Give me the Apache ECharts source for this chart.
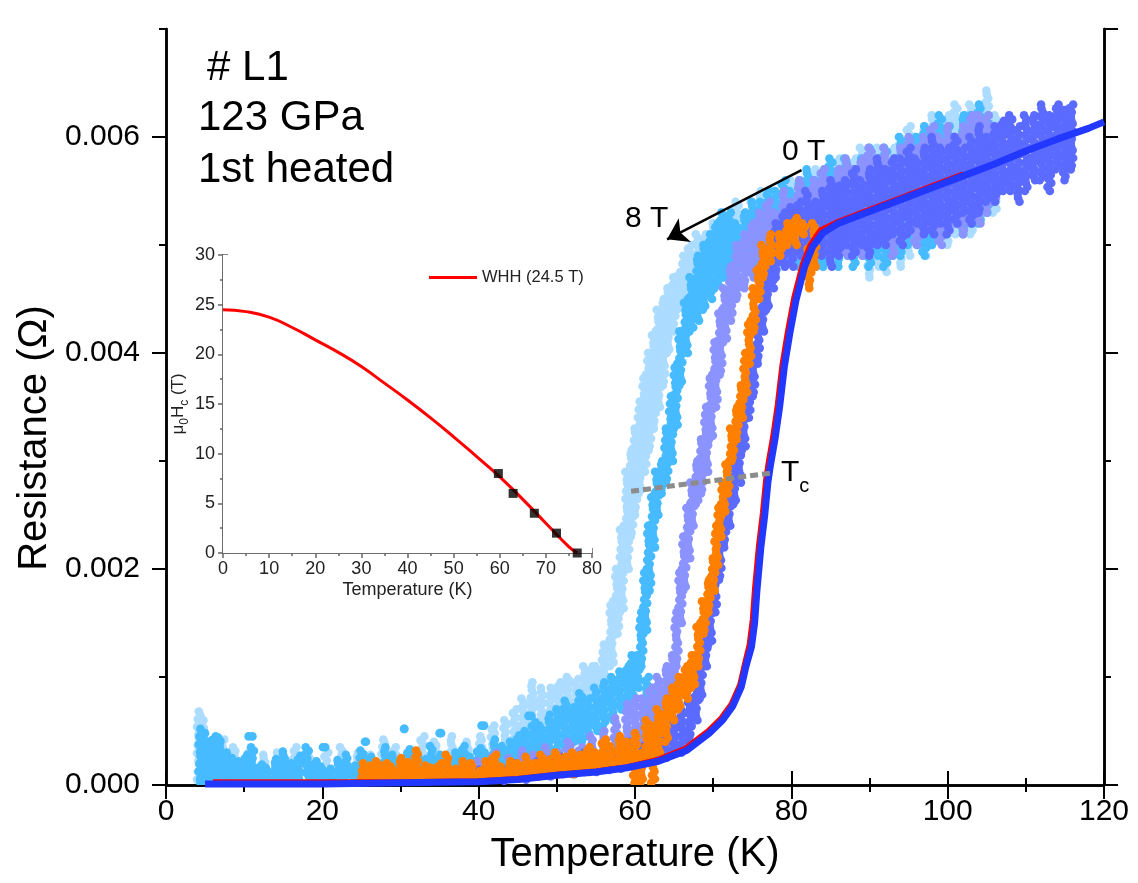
<!DOCTYPE html>
<html>
<head>
<meta charset="utf-8">
<script src="https://cdn.jsdelivr.net/npm/echarts@6/dist/echarts.min.js"></script>
<style>html,body{margin:0;padding:0;background:#fff;}#c{width:1138px;height:883px;}</style>
</head>
<body>
<div id="c"></div>
<script>
// ---------------- DATA ----------------
const xTicksMain = [0, 20, 40, 60, 80, 100, 120];
const yMajor = [0, 0.002, 0.004, 0.006];

// scatter clouds, each entry: [T (K), R low (Ω), R high (Ω)]
const lightSky = [
 [4.2,.00005,.00068],[4.6,.00005,.0006],[5.6,.0001,.0004],[7.2,.0001,.00042],[8.8,.00008,.00035],[10.5,.00005,.0003],
 [12.5,.0001,.00028],[14.2,.00008,.0003],[16.5,.0001,.00035],[18.5,.0001,.00025],[20.5,.00008,.0003],[22.5,.0001,.00035],
 [24.5,.0001,.0003],[26.2,.0001,.00028],[27.8,.00012,.00042],[29.2,.0001,.00035],[31.2,.0001,.0003],[32.8,.00012,.00045],
 [34.5,.00015,.0004],[36.5,.00012,.00045],[38.5,.00015,.0004],[40.2,.00015,.00045],[41.8,.0002,.00055],[43.4,.0002,.0006],
 [44.6,.00025,.0007],[45.7,.0003,.0008],[46.8,.00035,.00095],[48,.0004,.0009],[49.2,.00045,.0009],[50.3,.0005,.00095],
 [51.4,.0005,.001],[52.5,.00055,.00098],[53.6,.0006,.0011],[54.5,.0006,.0011],
 [55,.0006,.0011],[56,.0008,.0013],[57,.0011,.0017],[57.7,.0014,.0020],[58.3,.0016,.0024],[59,.0020,.0029],[59.5,.0023,.0031],
 [60,.0025,.0033],[60.6,.0027,.00355],[61.2,.0029,.0038],[61.8,.0031,.0040],[62.4,.0033,.0042],[63,.0035,.0044],
 [63.6,.0037,.0045],[64.2,.0040,.0046],[64.9,.0042,.0047],[65.6,.0044,.00475],[66.3,.0045,.0049],[67,.00455,.0050],[68,.0047,.0051],
 [69,.0047,.0051],[70,.0048,.0052],[71,.0047,.0053],[72,.0048,.0052],[73,.0048,.0054],[74,.0048,.0053],[75,.0049,.0054],
 [76,.0048,.0055],[77,.0049,.0054],[78,.0049,.0055],[79,.0048,.0055],[80,.0049,.0056],[81,.0049,.0055],[82,.0048,.0056],
 [83,.0049,.0057],[84,.0048,.0056],[85,.0049,.0057],[86,.0048,.0058],[87,.0049,.0057],[88,.0048,.0058],[89,.0049,.0059],
 [90,.0047,.0058],[91,.0048,.0059],[92,.00475,.0058],[93,.0049,.0059],[94,.0048,.0060],[95,.0049,.0061],[96,.0050,.0060],
 [97,.0049,.0061],[98,.0050,.0062],[99,.0051,.0061],[100,.0050,.0062],[101,.0051,.0063],[102,.0052,.0062],[103,.0051,.0063],
 [104,.0052,.0062],[105,.0053,.00643],[106,.0053,.0062]
];
const skyBlue = [
 [4.4,.00002,.00052],[4.8,.00002,.00048],[5.4,.00005,.00036],[6.1,.00004,.00045],[6.9,.00008,.00044],[7.7,.00005,.0003],
 [8.5,.00004,.00025],[9.3,.00006,.00022],[10.2,.00004,.00028],[11,.00008,.00035],[12,.00004,.00019],[13,.00006,.00016],
 [14,.00005,.00024],[15,.00008,.00031],[16,.00004,.0002],[17,.00006,.00027],[18,.00008,.00035],[19,.00005,.00022],
 [20,.00004,.00017],[21,.00006,.00015],[22,.00005,.00023],[23,.00008,.00028],[24,.00006,.00018],[25,.00008,.00032],
 [26,.0001,.00026],[27,.00008,.00022],[28,.0001,.00035],[29,.00012,.00028],[30,.0001,.00022],[31,.0001,.00033],
 [32,.00012,.0003],[33,.0001,.00024],[34,.00012,.00036],[35,.0001,.00028],[36,.00012,.00022],[37,.0001,.0003],
 [38,.00012,.00036],[39,.00012,.00026],[40,.00014,.00034],[41,.00012,.0003],[42,.00016,.00042],[43,.00014,.00036],
 [44,.00016,.0004],[45,.00018,.00046],[46,.0002,.0005],[47,.00022,.00058],[48,.00025,.00055],[49,.0003,.00065],
 [50,.0003,.0007],[51,.00035,.00078],[52,.0004,.00072],[53,.0004,.00085],[54,.00045,.0008],[55,.0005,.0009],
 [56,.00055,.00095],[57,.0006,.001],[58,.0007,.00105],[59,.00075,.0011],[59.7,.0008,.0012],
 [10.8,.00045,.00045],[20.3,.00035,.00035],[25.5,.0004,.0004],[30.5,.00052,.00052],[35,.00048,.00048],[40.5,.00055,.00055],[46.5,.00064,.00064],
 [61.5,.0006,.0010],[62.3,.0006,.0009],[63,.0007,.0009],
 [60.3,.0009,.0012],[60.8,.0011,.0016],[61.3,.0014,.0020],[61.8,.0018,.0024],[62.3,.0022,.0027],[62.8,.0025,.0029],
 [63.4,.0027,.0030],[64.0,.0028,.0033],[64.6,.0030,.0036],[65.2,.0033,.0039],[65.8,.0037,.0042],[66.5,.0040,.0045],
 [67.2,.0042,.0047],[68,.0043,.0049],[68.8,.0044,.0050],[69.6,.0045,.0051],[70.4,.0046,.0052],[71.2,.0047,.0053],
 [72,.0047,.0053],[73,.0048,.0052],[74,.0048,.0053],[75,.0049,.0054],[76,.0048,.0054],[77,.0049,.0055],[78,.0048,.0055],
 [79,.0049,.0056],[80,.0049,.0055],[81,.0048,.0056],[82,.0049,.0057],[83,.0048,.0056],[84,.0048,.0057],[85,.0049,.0058],
 [86,.0048,.0057],[87,.0049,.0058],[88,.0048,.0057],[89,.0049,.0058],[90,.0048,.0059],[91,.0049,.0058],[92,.0048,.0059],
 [93,.0049,.0058],[94,.0049,.0060],[95,.0050,.0059],[96,.0050,.0060],[97,.0049,.0061],[98,.0050,.0060],[99,.0051,.0062],
 [100,.0051,.0061],[101,.0052,.0060],[102,.0051,.0062],[103,.0052,.0062],[104,.0052,.0063],[105,.0053,.0062]
];
const lavender = [
 [36,.00005,.00015],[38,.00006,.0002],[40,.00008,.00022],[42,.00008,.0003],[44,.0001,.00025],[45.5,.0001,.00032],
 [47,.0001,.00028],[48.5,.00012,.00035],[50,.00012,.0003],[51.5,.00015,.0004],[53,.00015,.00035],[54.5,.00018,.00045],
 [56,.0002,.0005],[57.5,.00022,.00062],[59,.00025,.00075],[60,.0003,.0008],
 [61,.0004,.0008],[62,.0005,.0009],[63,.0005,.0010],[64,.0006,.0011],[64.8,.0008,.0012],[65.3,.0011,.0016],
 [65.8,.0015,.0020],[66.3,.0018,.0023],[66.8,.0021,.0026],[67.3,.0024,.0028],[67.9,.0026,.0030],[68.5,.0027,.0032],
 [69.1,.0029,.0035],[69.7,.0032,.0038],[70.3,.0035,.0041],[70.9,.0038,.0044],[71.5,.0041,.0046],[72.2,.0043,.0048],
 [73,.0045,.0050],[74,.0046,.0051],
 [75,.0047,.0052],[76,.0047,.0053],[77,.0048,.0054],[78,.0048,.0053],[79,.0049,.0055],[80,.0049,.0054],[81,.0049,.0056],
 [82,.0050,.0055],[83,.0049,.0056],[84,.0050,.0057],[85,.0049,.0056],[86,.0050,.0057],[87,.0049,.0058],[88,.0050,.0057],
 [89,.0049,.0058],[90,.0050,.0059],[91,.0051,.0058],[92,.0050,.0059],[93,.0049,.0058],[94,.0050,.0059],[95,.0051,.0060],
 [96,.0050,.0059],[97,.0051,.0060],[98,.0052,.0061],[99,.0050,.0060],[100,.0051,.0061],[101,.0052,.0060],[102,.0051,.0061],
 [103,.0052,.0062],[104,.0052,.0062],[105,.0053,.0062],[106,.0054,.0061]
];
const slate = [
 [30,.00002,.00008],[32,.00003,.0001],[34,.00003,.00009],[36,.00004,.00012],[38,.00003,.0001],[40,.00004,.00014],
 [41.5,.00005,.00018],[43,.00004,.00015],[44.5,.00006,.0002],[46,.00005,.00016],[47.5,.00008,.00024],[49,.00008,.0002],
 [50.5,.0001,.00026],[52,.0001,.00022],[53.5,.00012,.0003],[55,.00012,.00026],[56.5,.00014,.00034],[58,.00015,.0003],
 [59.5,.00018,.0004],[61,.0002,.00036],[62.5,.00022,.00045],[64,.00025,.0005],[65,.0003,.0006],
 [66,.0003,.0007],[67,.0004,.0008],[67.8,.0006,.0010],[68.4,.0008,.0012],[69,.0011,.0014],[69.6,.0013,.0017],
 [70.2,.0016,.0020],[70.8,.0019,.0023],[71.4,.0022,.0026],[72,.0024,.0028],[72.7,.0026,.0030],[73.3,.0028,.0032],
 [73.9,.0031,.0035],[74.5,.0034,.0038],[75.1,.0036,.0040],[75.7,.0039,.0043],[76.3,.0042,.0046],[76.9,.0044,.0048],
 [77.5,.0046,.0050],
 [78,.0047,.0052],[79,.0048,.0053],[80,.0048,.00535],[81,.0049,.0054],[82,.0048,.0055],[83,.0049,.0054],[84,.0049,.0055],
 [85,.0048,.0056],[86,.0049,.00555],[87,.0050,.0056],[88,.0049,.0057],[89,.0050,.0056],[90,.0049,.0057],[91,.0050,.0058],
 [92,.0050,.0057],[93,.0051,.0058],[94,.0050,.0058],[95,.0051,.0059],[96,.0052,.0058],[97,.0051,.0059],[98,.0051,.0060],
 [99,.0052,.0059],[100,.0051,.0059],[101,.0052,.0060],[102,.0053,.0059],[103,.0052,.0060],[104,.0053,.0061],
 [105,.0054,.0060],[106,.0054,.0061],[107,.0055,.00615],[108,.0055,.0062],[109,.0054,.0061],[110,.0055,.0062],
 [111,.0056,.0062],[112,.0056,.0063],[113,.0055,.0062],[114,.0057,.0063],[115,.0056,.00625],[115.8,.0057,.0063]
];
const orange = [
 [25.2,.00003,.0002],[26,.00004,.00018],[27,.00003,.00022],[28,.00005,.0002],[29,.00004,.00017],[30,.00005,.00025],
 [31,.00005,.00021],[32,.00006,.00032],[33,.00004,.00018],[34,.00005,.00016],[35,.00004,.0002],[36,.00005,.00028],
 [37,.00004,.00015],[38,.00006,.00022],[39,.00005,.0002],[40,.00005,.00013],[41,.00006,.00022],[42,.00005,.00028],
 [43,.00006,.00017],[44,.00008,.00022],[45,.00006,.0002],[46,.00008,.00026],[47,.00008,.0002],[48,.0001,.00028],
 [49,.0001,.00024],[50,.0001,.0003],[51,.00012,.00026],[52,.0001,.0003],[53,.00012,.00028],[54,.00012,.00035],
 [55,.00014,.0003],[56,.00015,.00042],[57,.00016,.00036],[58,.0002,.00045],[59,.0002,.0004],[60,.00002,.00048],
 [60.8,.00002,.0003],[61.5,.00025,.0006],[62.3,.00002,.00055],
 [63,.0003,.0007],[64,.0004,.0008],[64.8,.0006,.0009],[65.6,.0007,.0010],[66.5,.0008,.0011],[67.4,.0009,.0012],
 [68.1,.0011,.0015],[68.8,.0014,.0017],[69.4,.0016,.0019],[70,.0018,.0021],[70.4,.0020,.0024],[70.8,.0023,.0026],
 [71.3,.0025,.0028],[71.8,.0027,.0030],[72.4,.0030,.0033],[73,.0032,.0035],[73.6,.0034,.0037],[74.1,.0036,.0040],
 [74.6,.0039,.0043],[75.2,.0042,.0046],[75.8,.0045,.0048],[76.4,.0047,.0050],[77.3,.00485,.0051],[78.5,.0049,.0051],
 [79.5,.0050,.0052],[80.5,.0050,.00525],[81.5,.0051,.0052],[82.3,.0046,.0050],[82.9,.0048,.0052]
];
// 0 T sweeps: [T (K), R (Ω)]
const redLine = [
 [6,.00003],[20,.00003],[30,.00003],[40,.00004],[45,.00006],[50,.0001],[55,.00013],[59,.00017],[63,.00024],
 [66.4,.00034],[69.3,.0005],[71,.00062],[72.3,.00075],[73.4,.00093],[74,.00112],[74.6,.0013],[75,.00153],
 [75.3,.00183],[75.8,.00222],[76.3,.00252],[76.7,.00282],[77.0,.00297],[77.6,.00322],[78.2,.00352],[78.8,.00389],
 [79.5,.0042],[80.3,.00451],[81.4,.00482],[82.4,.005],[83.7,.00514],[86,.00522],[90,.00533],[94,.00544],[98,.00555],[102,.00566]
];
const blueLine = [
 [5,.00001],[10,.00001],[20,.00001],[30,.00002],[40,.00003],[45,.00005],[50,.00009],[55,.00012],[59,.00016],[63,.00022],
 [66.6,.00032],[69.5,.00048],[71.2,.0006],[72.5,.00073],[73.6,.00091],[74.2,.0011],[74.9,.00128],[75.3,.0015],
 [75.6,.0018],[76.1,.0022],[76.6,.0025],[77.0,.0028],[77.3,.00295],[77.9,.0032],[78.5,.0035],[79.1,.00387],
 [79.8,.00418],[80.6,.00449],[81.7,.0048],[82.7,.00498],[84.0,.00511],[86,.0052],[90,.00531],[94,.00542],[98,.00553],
 [102,.00564],[106,.00575],[110,.00587],[114,.00598],[118,.00608],[120,.00614]
];
// Tc guide line and field arrow (data coordinates)
const tcGuide = [[59.5,.00272],[77.6,.00289]];
const fieldArrow = [[81.3,.005694],[64.1,.005053]];

// inset: upper critical field
const whhT = [0,5,10,15,20,25,30,35,40,45,50,55,60,65,70,75,76.8];
const whhH = [24.5,24.3,23.75,22.7,21.46,20.2,18.77,17.1,15.4,13.6,11.7,9.7,7.67,5.4,3.0,0.62,0];
const tcT = [59.7,62.9,67.5,72.3,76.8];
const tcH = [8,6,4,2,0];

// ---------------- CHART ----------------
const FONT = "'Liberation Sans', Arial, Helvetica, sans-serif";
const chart = echarts.init(document.getElementById('c'), null, {renderer:'canvas'});
const JIT = [0, 1.5, -1, 2, -1.8, 0.6, -0.4];
function streak(color){
  return function(params, api){
    const t = api.value(0);
    const p = api.coord([t, api.value(1)]);
    const q = api.coord([t, api.value(2)]);
    const y0 = Math.min(p[1], q[1]), y1 = Math.max(p[1], q[1]);
    const n = Math.max(1, Math.ceil((y1 - y0) / 4));
    const kids = [];
    for (let i = 0; i <= n; i++) {
      kids.push({type:'circle', shape:{cx: p[0] + JIT[(i + params.dataIndex) % JIT.length], cy: y0 + (y1 - y0) * i / n, r: 4.3}, style:{fill: color}});
    }
    return {type:'group', children: kids};
  };
}
const clouds = [
  {name:'8 T', data: lightSky, color:'#acdcff'},
  {name:'6 T', data: skyBlue, color:'#47bbff'},
  {name:'4 T', data: lavender, color:'#8b93ff'},
  {name:'2 T b', data: slate, color:'#5b6bff'},
  {name:'2 T', data: orange, color:'#ff8000'}
];
const series = clouds.map(c => ({
  type:'custom', name:c.name, data:c.data, xAxisIndex:0, yAxisIndex:0, clip:true, silent:true,
  encode:{x:0, y:[1,2]}, renderItem: streak(c.color)
}));
series.push({type:'line', name:'0 T a', data: redLine, xAxisIndex:0, yAxisIndex:0, symbol:'none', silent:true,
  lineStyle:{color:'#ff0000', width:5}});
series.push({type:'line', name:'0 T', data: blueLine, xAxisIndex:0, yAxisIndex:0, symbol:'none', silent:true,
  lineStyle:{color:'#2238ff', width:7}});
series.push({type:'line', name:'Tc', data: tcGuide, xAxisIndex:0, yAxisIndex:0, symbol:'none', silent:true,
  lineStyle:{color:'#8c8c8c', width:5, type:[8,4]}});
series.push({type:'lines', name:'field arrow', coordinateSystem:'cartesian2d', xAxisIndex:0, yAxisIndex:0, silent:true,
  symbol:['none','arrow'], symbolSize:20, z:6,
  lineStyle:{color:'#000', width:2.5, type:'solid', opacity:1},
  data:[{coords: fieldArrow}]});
series.push({type:'line', name:'WHH (24.5 T)', data: whhT.map((t,i)=>[t, whhH[i]]), xAxisIndex:2, yAxisIndex:4,
  symbol:'none', smooth:true, silent:true, lineStyle:{color:'#ff0000', width:3}, itemStyle:{color:'#ff0000'}});
series.push({type:'scatter', name:'Hc', data: tcT.map((t,i)=>[t, tcH[i]]), xAxisIndex:2, yAxisIndex:4,
  symbol:'rect', symbolSize:9, silent:true, itemStyle:{color:'#000'}, z:5});

const blk = {color:'#000', width:2.5};
function mainX(pos, labels){
  return {type:'value', gridIndex:0, position:pos, min:0, max:120, interval:20,
    axisLine:{lineStyle:blk}, axisTick:{inside:false, length:14, lineStyle:{color:'#000', width:2}},
    minorTick:{show:true, splitNumber:2, length:7, lineStyle:{color:'#000', width:2}},
    splitLine:{show:false}, minorSplitLine:{show:false},
    axisLabel:{show:labels, fontSize:30, color:'#000', margin:12, fontFamily:FONT},
    name: labels ? 'Temperature (K)' : '', nameLocation:'middle', nameGap:50,
    nameTextStyle:{fontSize:40, color:'#000', fontFamily:FONT}};
}
function mainY(pos, major, labels){
  return {type:'value', gridIndex:0, position:pos, min:0, max:0.007, interval: major ? 0.002 : 0.001,
    axisLine:{show:true, lineStyle:blk}, axisTick:{inside:false, length: major ? 14 : 7, lineStyle:{color:'#000', width:2}},
    splitLine:{show:false},
    axisLabel:{show:labels, fontSize:30, color:'#000', margin:26, fontFamily:FONT, showMaxLabel:false,
      formatter: v => v.toFixed(3)}};
}
const gry = {color:'#666', width:1.5};
function insetX(pos, labels){
  return {type:'value', gridIndex:1, position:pos, min:0, max:80, interval:10,
    axisLine:{lineStyle:gry}, axisTick:{inside:false, length:5, lineStyle:gry},
    minorTick:{show:true, splitNumber:2, length:3, lineStyle:gry}, splitLine:{show:false},
    axisLabel:{show:labels, fontSize:18, color:'#222', margin:7, fontFamily:FONT},
    name: labels ? 'Temperature (K)' : '', nameLocation:'middle', nameGap:28,
    nameTextStyle:{fontSize:18, color:'#222', fontFamily:FONT}};
}
function insetY(pos, labels){
  return {type:'value', gridIndex:1, position:pos, min:0, max:30, interval:5,
    axisLine:{show:true, lineStyle:gry}, axisTick:{inside:false, length:5, lineStyle:gry},
    minorTick:{show:true, splitNumber:2, length:3, lineStyle:gry}, splitLine:{show:false},
    axisLabel:{show:labels, fontSize:18, color:'#222', margin:8, fontFamily:FONT},
    name: labels ? '{a|μ}{s|0}{a|H}{s|c}{a| (T)}' : '', nameLocation:'middle', nameGap:26,
    nameTextStyle:{color:'#222', fontFamily:FONT, fontSize:17,
      rich:{a:{fontSize:17, lineHeight:17, verticalAlign:'top', fontFamily:FONT, color:'#222'},
            s:{fontSize:12, lineHeight:12, padding:[9,0,0,0], verticalAlign:'top', fontFamily:FONT, color:'#222'}}}};
}

const option = {
  animation:false,
  backgroundColor:'#fff',
  textStyle:{fontFamily:FONT},
  grid:[
    {left:166, right:34, top:29, bottom:98, containLabel:false, outerBoundsMode:'none'},
    {left:223, top:255, width:369, height:298, containLabel:false, outerBoundsMode:'none', show:true,
     backgroundColor:'#fff', borderWidth:0, z:3}
  ],
  legend:{data:['WHH (24.5 T)'], icon:'rect', left:429, top:269, padding:0, itemWidth:48, itemHeight:3, itemGap:6,
    textStyle:{fontSize:16.5, color:'#222', fontFamily:FONT}, selectedMode:false},
  xAxis:[mainX('bottom', true), mainX('top', false), insetX('bottom', true), insetX('top', false)],
  yAxis:[mainY('left', true, true), mainY('left', false, false), mainY('right', true, false), mainY('right', false, false),
         insetY('left', true), insetY('right', false)],
  graphic:[
    {type:'text', x:35, y:438, rotation:Math.PI/2, z:10,
     style:{text:'Resistance (Ω)', x:0, y:0, align:'center', verticalAlign:'middle', fontSize:40, fontFamily:FONT, fill:'#000'}},
    {type:'text', x:207, y:68, z:10, style:{text:'# L1', align:'left', verticalAlign:'middle', fontSize:42, fontFamily:FONT, fill:'#000'}},
    {type:'text', x:198, y:118, z:10, style:{text:'123 GPa', align:'left', verticalAlign:'middle', fontSize:42, fontFamily:FONT, fill:'#000'}},
    {type:'text', x:198, y:170, z:10, style:{text:'1st heated', align:'left', verticalAlign:'middle', fontSize:42, fontFamily:FONT, fill:'#000'}},
    {type:'text', x:782, y:152, z:10, style:{text:'0 T', align:'left', verticalAlign:'middle', fontSize:30, fontFamily:FONT, fill:'#000'}},
    {type:'text', x:625, y:219, z:10, style:{text:'8 T', align:'left', verticalAlign:'middle', fontSize:30, fontFamily:FONT, fill:'#000'}},
    {type:'text', x:781, y:458, z:10, style:{text:'{t|T}{c|c}', align:'left', verticalAlign:'top', fill:'#000',
      rich:{t:{fontSize:30, lineHeight:30, verticalAlign:'top', fontFamily:FONT, fill:'#000'},
            c:{fontSize:20, lineHeight:20, padding:[18,0,0,0], verticalAlign:'top', fontFamily:FONT, fill:'#000'}}}}
  ],
  series: series
};
chart.setOption(option);
</script>
</body>
</html>
